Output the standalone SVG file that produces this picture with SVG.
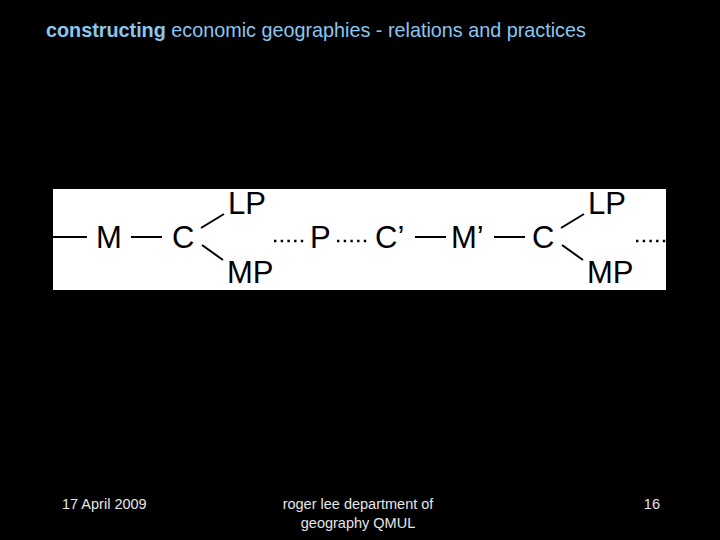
<svg xmlns="http://www.w3.org/2000/svg" width="720" height="540" viewBox="0 0 720 540">
<style>
.t{font-family:"Liberation Sans",Arial,sans-serif;font-size:31px;fill:#000}
.ln{stroke:#000;stroke-width:2;fill:none}
.dt{stroke:#000;stroke-width:2.4;fill:none;stroke-dasharray:2.4 4.3}
.ft{font-family:"Liberation Sans",Arial,sans-serif;font-size:14.5px;fill:#e6e6e6}
</style>
<rect width="720" height="540" fill="#000"/>
<text x="46" y="37" font-family="Liberation Sans,Arial,sans-serif" font-size="19.8" fill="#8cc6ee"><tspan font-weight="bold">constructing</tspan> economic geographies - relations and practices</text>
<rect x="53" y="189" width="613" height="101" fill="#fff"/>
<g id="connectors">
<line class="ln" x1="53" y1="237" x2="87" y2="237"/>
<line class="ln" x1="131" y1="237" x2="162" y2="237"/>
<line class="ln" x1="201" y1="228" x2="224" y2="214"/>
<line class="ln" x1="202" y1="245" x2="223" y2="260"/>
<line class="dt" x1="274" y1="241" x2="304" y2="241"/>
<line class="dt" x1="337" y1="241" x2="367" y2="241"/>
<line class="ln" x1="415" y1="237" x2="446" y2="237"/>
<line class="ln" x1="494" y1="237" x2="525" y2="237"/>
<line class="ln" x1="561" y1="228" x2="584" y2="214"/>
<line class="ln" x1="562" y1="245" x2="583" y2="260"/>
<line class="dt" x1="636" y1="241" x2="666" y2="241"/>
</g>
<g id="M1"><text class="t" x="96" y="248">M</text></g>
<g id="C1"><text class="t" x="172" y="248">C</text></g>
<g id="LP1"><text class="t" x="228" y="214">LP</text></g>
<g id="MP1"><text class="t" x="227" y="283">MP</text></g>
<g id="P"><text class="t" x="310" y="248">P</text></g>
<g id="C2"><text class="t" x="375" y="248">C’</text></g>
<g id="M2"><text class="t" x="451" y="248">M’</text></g>
<g id="C3"><text class="t" x="532" y="248">C</text></g>
<g id="LP2"><text class="t" x="588" y="214">LP</text></g>
<g id="MP2"><text class="t" x="587" y="283">MP</text></g>
<text class="ft" x="62" y="509">17 April 2009</text>
<text class="ft" x="358" y="509" text-anchor="middle">roger lee  department of</text>
<text class="ft" x="358" y="528" text-anchor="middle">geography QMUL</text>
<text class="ft" x="660" y="509" text-anchor="end">16</text>
</svg>
